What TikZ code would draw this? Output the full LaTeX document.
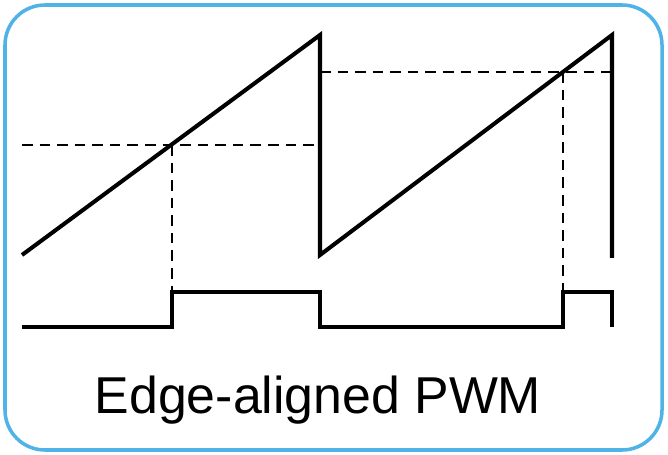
\documentclass[tikz,border=0pt]{standalone}
\usepackage{fontspec}
\setmainfont{Liberation Sans}
\definecolor{frame}{HTML}{4FB3E8}
\begin{document}
\begin{tikzpicture}[x=0.02cm,y=-0.02cm,
  sig/.style={line width=2.3pt,line join=miter},
  dsh/.style={line width=0.9pt,dash pattern=on 6pt off 4pt}]
\useasboundingbox (0,0) rectangle (668,455);
\draw[frame,line width=2pt,rounded corners=0.8cm] (5,5) rectangle (662,450);
\coordinate (a1) at (22,255); \coordinate (a2) at (320,35);
\coordinate (a3) at (320,255); \coordinate (a4) at (612,35);
\coordinate (a5) at (612,258);
\draw[sig] (a1)--(a2)--(a3)--(a4)--(a5);
\coordinate (h1) at (22,145); \coordinate (h2) at (320,145);
\coordinate (h3) at (320,72); \coordinate (h4) at (612,72);
\draw[dsh] (h1)--(h2); \draw[dsh] (h3)--(h4);
\coordinate (v1) at (172,145); \coordinate (v2) at (172,292);
\coordinate (v3) at (563,72); \coordinate (v4) at (563,292);
\draw[dsh] (v1)--(v2); \draw[dsh] (v3)--(v4);
\draw[sig] (22,327)--(172,327)--(172,292)--(320,292)--(320,327)--(563,327)--(563,292)--(612,292)--(612,327);
\node[font=\fontsize{29.5}{34}\selectfont] (t) at (318,400) {Edge-aligned PWM};
\end{tikzpicture}
\end{document}
